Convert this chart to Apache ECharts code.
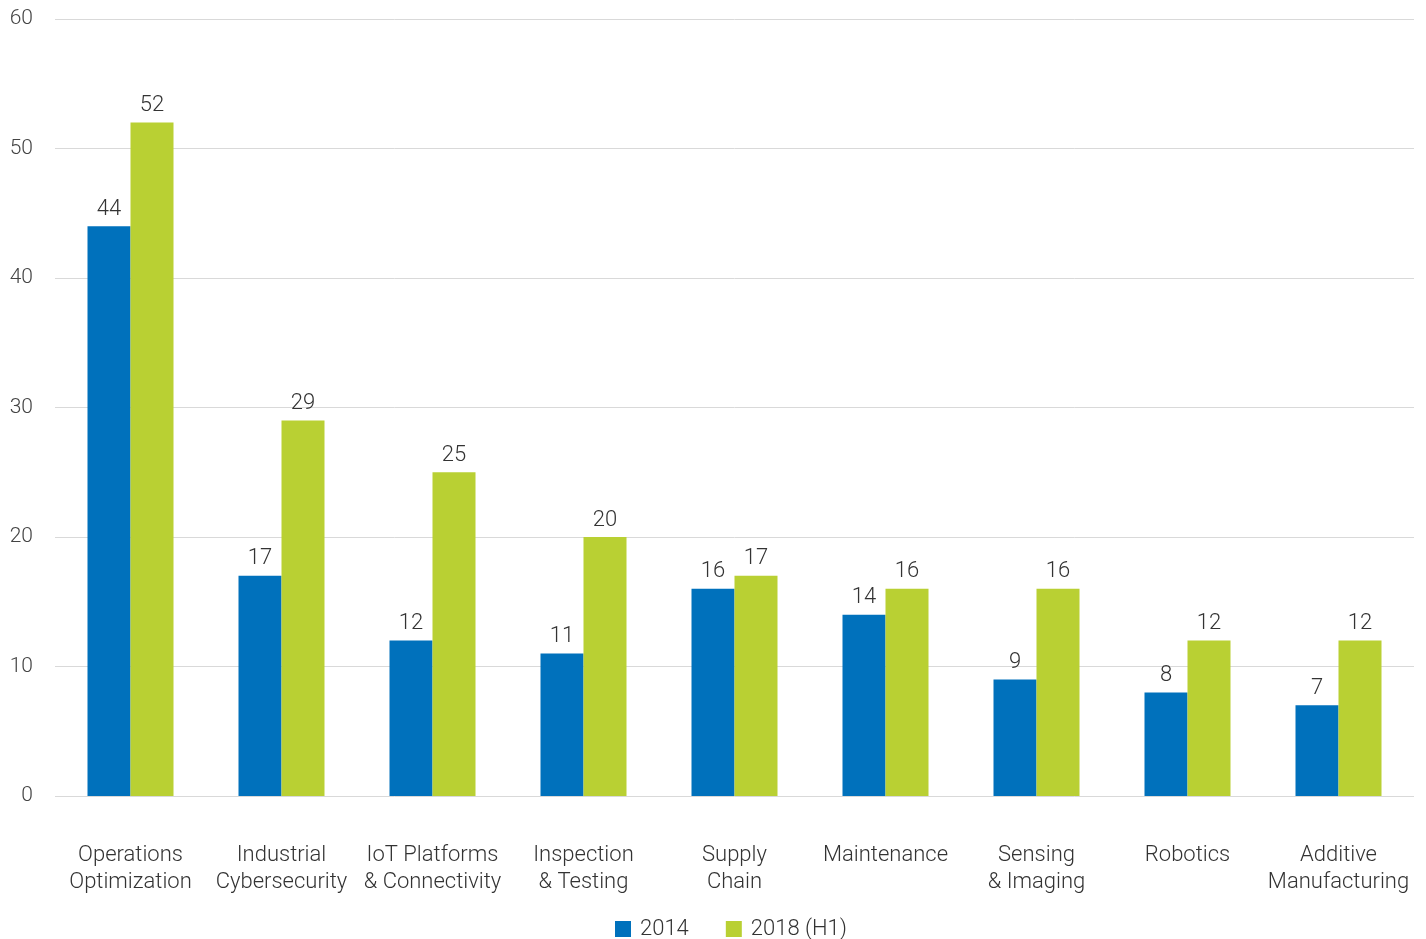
<!DOCTYPE html>
<html><head><meta charset="utf-8">
<script src="https://cdn.jsdelivr.net/npm/echarts@6/dist/echarts.min.js"></script>
<style>html,body{margin:0;padding:0;background:#fff}#c{width:1426px;height:939px}</style>
</head><body><div id="c"></div>
<script>
const categories = ["Operations\nOptimization","Industrial\nCybersecurity","IoT Platforms\n& Connectivity","Inspection\n& Testing","Supply\nChain","Maintenance","Sensing\n& Imaging","Robotics","Additive\nManufacturing"];
const values2014 = [44,17,12,11,16,14,9,8,7];
const values2018 = [52,29,25,20,17,16,16,12,12];
const seriesNames = ["2014","2018 (H1)"];
const yTicks = {min:0,max:60,interval:10};

const font = "'Roboto', 'Liberation Sans', sans-serif";
const chart = echarts.init(document.getElementById('c'));
const labelStyle = {show:true, position:'top', distance:6, color:'#333', fontSize:22, fontFamily:font, fontWeight:300};
chart.setOption({
  animation:false,
  grid:{left:55,right:12,top:19,bottom:143,containLabel:false},
  legend:{left:615,top:918,padding:0,itemWidth:16,itemHeight:16,itemGap:37,icon:'rect',
    textStyle:{color:'#333',fontSize:22,fontFamily:font,fontWeight:300,padding:[0,0,0,4]},data:seriesNames},
  xAxis:{type:'category',data:categories,axisLine:{show:false},axisTick:{show:false},
    axisLabel:{margin:46,color:'#333',fontSize:22,fontFamily:font,fontWeight:300,lineHeight:27,interval:0}},
  yAxis:{type:'value',min:yTicks.min,max:yTicks.max,interval:yTicks.interval,
    axisLine:{show:false},axisTick:{show:false},
    splitLine:{lineStyle:{color:'#d9d9d9',width:1}},
    axisLabel:{margin:22,color:'#444',fontSize:21,fontFamily:font,fontWeight:300}},
  series:[
    {name:seriesNames[0],type:'bar',data:values2014,barWidth:43,barGap:'0%',itemStyle:{color:'#0071BC'},label:labelStyle},
    {name:seriesNames[1],type:'bar',data:values2018,barWidth:43,barGap:'0%',itemStyle:{color:'#B9D033'},label:labelStyle}
  ]
});
</script></body></html>
